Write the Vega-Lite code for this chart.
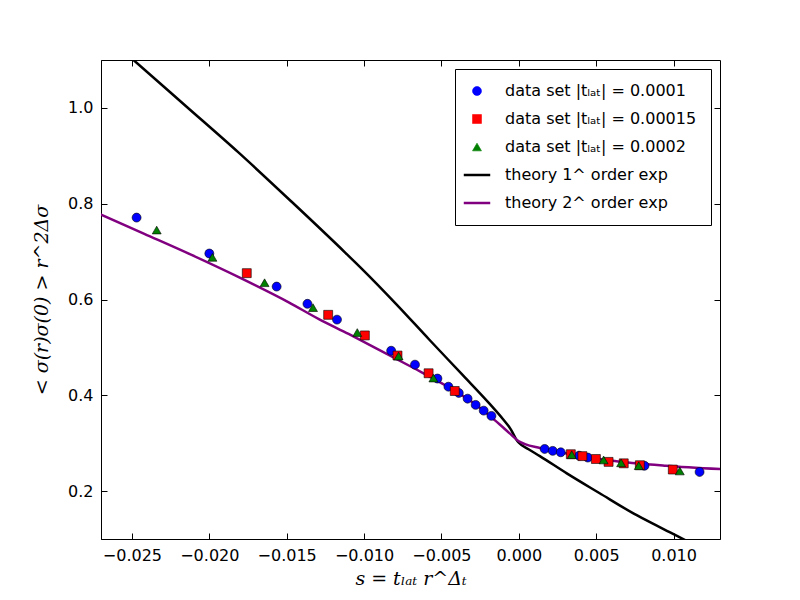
{
  "$schema": "https://vega.github.io/schema/vega-lite/v6.json",
  "width": 619,
  "height": 479,
  "autosize": {"type": "none"},
  "padding": {"left": 101, "top": 60, "right": 80, "bottom": 61},
  "background": "white",
  "config": {
    "view": {"stroke": "black", "strokeWidth": 1},
    "axis": {
      "domainColor": "black",
      "tickColor": "black",
      "tickSize": -6,
      "grid": false,
      "labelFont": "DejaVu Sans",
      "labelFontSize": 16,
      "labelColor": "black",
      "titleFont": "DejaVu Serif",
      "titleFontStyle": "italic",
      "titleFontWeight": "normal",
      "titleFontSize": 19,
      "titleColor": "black"
    },
    "legend": {
      "orient": "top-right",
      "offset": 9,
      "strokeColor": "black",
      "fillColor": "white",
      "padding": 14,
      "labelFont": "DejaVu Sans",
      "labelFontSize": 16,
      "labelColor": "black",
      "labelLimit": 400,
      "labelOffset": 20,
      "symbolSize": 700,
      "rowPadding": 12
    }
  },
  "datasets": {
    "theory": [
      {"series": "theory 1^ order exp", "s": -0.026, "g": 1.131},
      {"series": "theory 1^ order exp", "s": -0.0249, "g": 1.1},
      {"series": "theory 1^ order exp", "s": -0.02156, "g": 1.005},
      {"series": "theory 1^ order exp", "s": -0.01812, "g": 0.907},
      {"series": "theory 1^ order exp", "s": -0.01468, "g": 0.804},
      {"series": "theory 1^ order exp", "s": -0.01119, "g": 0.697},
      {"series": "theory 1^ order exp", "s": -0.01011, "g": 0.663},
      {"series": "theory 1^ order exp", "s": -0.00794, "g": 0.591},
      {"series": "theory 1^ order exp", "s": -0.00578, "g": 0.516},
      {"series": "theory 1^ order exp", "s": -0.00362, "g": 0.442},
      {"series": "theory 1^ order exp", "s": -0.00188, "g": 0.382},
      {"series": "theory 1^ order exp", "s": -0.00102, "g": 0.35},
      {"series": "theory 1^ order exp", "s": -0.0005, "g": 0.328},
      {"series": "theory 1^ order exp", "s": -0.00015, "g": 0.307},
      {"series": "theory 1^ order exp", "s": 0.0, "g": 0.301},
      {"series": "theory 1^ order exp", "s": 0.0006, "g": 0.288},
      {"series": "theory 1^ order exp", "s": 0.00136, "g": 0.273},
      {"series": "theory 1^ order exp", "s": 0.0031, "g": 0.237},
      {"series": "theory 1^ order exp", "s": 0.0052, "g": 0.196},
      {"series": "theory 1^ order exp", "s": 0.00743, "g": 0.153},
      {"series": "theory 1^ order exp", "s": 0.0091, "g": 0.125},
      {"series": "theory 1^ order exp", "s": 0.01079, "g": 0.097},
      {"series": "theory 1^ order exp", "s": 0.0112, "g": 0.09},
      {"series": "theory 2^ order exp", "s": -0.0272, "g": 0.78},
      {"series": "theory 2^ order exp", "s": -0.0242, "g": 0.737},
      {"series": "theory 2^ order exp", "s": -0.02115, "g": 0.693},
      {"series": "theory 2^ order exp", "s": -0.018, "g": 0.645},
      {"series": "theory 2^ order exp", "s": -0.01487, "g": 0.594},
      {"series": "theory 2^ order exp", "s": -0.01292, "g": 0.559},
      {"series": "theory 2^ order exp", "s": -0.011, "g": 0.528},
      {"series": "theory 2^ order exp", "s": -0.00903, "g": 0.495},
      {"series": "theory 2^ order exp", "s": -0.0068, "g": 0.457},
      {"series": "theory 2^ order exp", "s": -0.0047, "g": 0.42},
      {"series": "theory 2^ order exp", "s": -0.0032, "g": 0.39},
      {"series": "theory 2^ order exp", "s": -0.00188, "g": 0.357},
      {"series": "theory 2^ order exp", "s": -0.00123, "g": 0.339},
      {"series": "theory 2^ order exp", "s": -0.0005, "g": 0.318},
      {"series": "theory 2^ order exp", "s": 0.0, "g": 0.304},
      {"series": "theory 2^ order exp", "s": 0.0004, "g": 0.298},
      {"series": "theory 2^ order exp", "s": 0.00136, "g": 0.29},
      {"series": "theory 2^ order exp", "s": 0.003, "g": 0.279},
      {"series": "theory 2^ order exp", "s": 0.0059, "g": 0.264},
      {"series": "theory 2^ order exp", "s": 0.0095, "g": 0.253},
      {"series": "theory 2^ order exp", "s": 0.013, "g": 0.246}
    ],
    "points": [
      {"series": "data set |tₗₐₜ| = 0.0001", "s": -0.0247, "g": 0.771},
      {"series": "data set |tₗₐₜ| = 0.0001", "s": -0.02, "g": 0.696},
      {"series": "data set |tₗₐₜ| = 0.0001", "s": -0.01565, "g": 0.627},
      {"series": "data set |tₗₐₜ| = 0.0001", "s": -0.01366, "g": 0.591},
      {"series": "data set |tₗₐₜ| = 0.0001", "s": -0.01175, "g": 0.558},
      {"series": "data set |tₗₐₜ| = 0.0001", "s": -0.00825, "g": 0.493},
      {"series": "data set |tₗₐₜ| = 0.0001", "s": -0.00671, "g": 0.464},
      {"series": "data set |tₗₐₜ| = 0.0001", "s": -0.00526, "g": 0.435},
      {"series": "data set |tₗₐₜ| = 0.0001", "s": -0.00455, "g": 0.418},
      {"series": "data set |tₗₐₜ| = 0.0001", "s": -0.00388, "g": 0.405},
      {"series": "data set |tₗₐₜ| = 0.0001", "s": -0.00331, "g": 0.393},
      {"series": "data set |tₗₐₜ| = 0.0001", "s": -0.00279, "g": 0.38},
      {"series": "data set |tₗₐₜ| = 0.0001", "s": -0.00227, "g": 0.368},
      {"series": "data set |tₗₐₜ| = 0.0001", "s": -0.00177, "g": 0.357},
      {"series": "data set |tₗₐₜ| = 0.0001", "s": 0.00167, "g": 0.288},
      {"series": "data set |tₗₐₜ| = 0.0001", "s": 0.00219, "g": 0.284},
      {"series": "data set |tₗₐₜ| = 0.0001", "s": 0.00271, "g": 0.281},
      {"series": "data set |tₗₐₜ| = 0.0001", "s": 0.00389, "g": 0.274},
      {"series": "data set |tₗₐₜ| = 0.0001", "s": 0.00446, "g": 0.27},
      {"series": "data set |tₗₐₜ| = 0.0001", "s": 0.00812, "g": 0.253},
      {"series": "data set |tₗₐₜ| = 0.0001", "s": 0.01168, "g": 0.24},
      {"series": "data set |tₗₐₜ| = 0.00015", "s": -0.01758, "g": 0.655},
      {"series": "data set |tₗₐₜ| = 0.00015", "s": -0.01232, "g": 0.568},
      {"series": "data set |tₗₐₜ| = 0.00015", "s": -0.00995, "g": 0.525},
      {"series": "data set |tₗₐₜ| = 0.00015", "s": -0.00784, "g": 0.483},
      {"series": "data set |tₗₐₜ| = 0.00015", "s": -0.00583, "g": 0.446},
      {"series": "data set |tₗₐₜ| = 0.00015", "s": -0.00414, "g": 0.409},
      {"series": "data set |tₗₐₜ| = 0.00015", "s": 0.00336, "g": 0.277},
      {"series": "data set |tₗₐₜ| = 0.00015", "s": 0.00411, "g": 0.273},
      {"series": "data set |tₗₐₜ| = 0.00015", "s": 0.00498, "g": 0.267},
      {"series": "data set |tₗₐₜ| = 0.00015", "s": 0.0058, "g": 0.261},
      {"series": "data set |tₗₐₜ| = 0.00015", "s": 0.00678, "g": 0.258},
      {"series": "data set |tₗₐₜ| = 0.00015", "s": 0.00782, "g": 0.254},
      {"series": "data set |tₗₐₜ| = 0.00015", "s": 0.00995, "g": 0.245},
      {"series": "data set |tₗₐₜ| = 0.0002", "s": -0.0234, "g": 0.745},
      {"series": "data set |tₗₐₜ| = 0.0002", "s": -0.0198, "g": 0.688},
      {"series": "data set |tₗₐₜ| = 0.0002", "s": -0.01643, "g": 0.635},
      {"series": "data set |tₗₐₜ| = 0.0002", "s": -0.0133, "g": 0.583},
      {"series": "data set |tₗₐₜ| = 0.0002", "s": -0.01044, "g": 0.531},
      {"series": "data set |tₗₐₜ| = 0.0002", "s": -0.00777, "g": 0.482},
      {"series": "data set |tₗₐₜ| = 0.0002", "s": -0.00552, "g": 0.436},
      {"series": "data set |tₗₐₜ| = 0.0002", "s": 0.00342, "g": 0.276},
      {"series": "data set |tₗₐₜ| = 0.0002", "s": 0.00548, "g": 0.265},
      {"series": "data set |tₗₐₜ| = 0.0002", "s": 0.00661, "g": 0.259},
      {"series": "data set |tₗₐₜ| = 0.0002", "s": 0.00775, "g": 0.253},
      {"series": "data set |tₗₐₜ| = 0.0002", "s": 0.0104, "g": 0.242}
    ]
  },
  "resolve": {"axis": {"x": "independent", "y": "independent"}},
  "layer": [
    {
      "data": {"name": "theory"},
      "mark": {"type": "line", "strokeWidth": 2.5, "clip": true, "interpolate": "monotone"},
      "encoding": {
        "x": {
          "field": "s",
          "type": "quantitative",
          "scale": {"domain": [-0.027, 0.013], "nice": false, "zero": false},
          "axis": {
            "orient": "bottom",
            "values": [-0.025, -0.02, -0.015, -0.01, -0.005, 0, 0.005, 0.01],
            "format": ".3f",
            "labelPadding": 14,
            "title": "s = tₗₐₜ r^Δₜ",
            "titlePadding": 6
          }
        },
        "y": {
          "field": "g",
          "type": "quantitative",
          "scale": {"domain": [0.1, 1.1], "nice": false, "zero": false},
          "axis": {
            "orient": "left",
            "values": [0.2, 0.4, 0.6, 0.8, 1.0],
            "format": ".1f",
            "labelPadding": 14,
            "title": "< σ(r)σ(0) > r^2Δσ",
            "titlePadding": 16
          }
        },
        "color": {
          "field": "series",
          "type": "nominal",
          "scale": {
            "domain": ["data set |tₗₐₜ| = 0.0001", "data set |tₗₐₜ| = 0.00015", "data set |tₗₐₜ| = 0.0002", "theory 1^ order exp", "theory 2^ order exp"],
            "range": ["#0000ff", "#ff0000", "#008000", "#000000", "#800080"]
          },
          "legend": {
            "title": null,
            "encode": {
              "symbols": {
                "update": {
                  "fill": {"signal": "scale('color', datum.value)"},
                  "stroke": {"signal": "test(/theory/, datum.value) ? scale('color', datum.value) : 'black'"},
                  "strokeWidth": {"signal": "test(/theory/, datum.value) ? 2.5 : 0.6"},
                  "size": {"signal": "test(/theory/, datum.value) ? 700 : 80"},
                  "opacity": {"value": 1}
                }
              }
            }
          }
        },
        "detail": {"field": "series"}
      }
    },
    {
      "data": {"name": "points"},
      "mark": {"type": "point", "filled": true, "size": 80, "stroke": "black", "strokeWidth": 0.6, "opacity": 1},
      "encoding": {
        "x": {
          "field": "s",
          "type": "quantitative",
          "axis": {"orient": "top", "values": [-0.025, -0.02, -0.015, -0.01, -0.005, 0, 0.005, 0.01], "labels": false, "title": null, "domain": false}
        },
        "y": {
          "field": "g",
          "type": "quantitative",
          "axis": {"orient": "right", "values": [0.2, 0.4, 0.6, 0.8, 1.0], "labels": false, "title": null, "domain": false}
        },
        "color": {
          "field": "series",
          "type": "nominal",
          "legend": {
            "title": null,
            "encode": {
              "symbols": {
                "update": {
                  "fill": {"signal": "scale('color', datum.value)"},
                  "stroke": {"signal": "test(/theory/, datum.value) ? scale('color', datum.value) : 'black'"},
                  "strokeWidth": {"signal": "test(/theory/, datum.value) ? 2.5 : 0.6"},
                  "size": {"signal": "test(/theory/, datum.value) ? 700 : 80"},
                  "opacity": {"value": 1}
                }
              }
            }
          }
        },
        "shape": {
          "field": "series",
          "type": "nominal",
          "scale": {
            "domain": ["data set |tₗₐₜ| = 0.0001", "data set |tₗₐₜ| = 0.00015", "data set |tₗₐₜ| = 0.0002", "theory 1^ order exp", "theory 2^ order exp"],
            "range": ["circle", "square", "triangle-up", "stroke", "stroke"]
          },
          "legend": {
            "title": null,
            "encode": {
              "symbols": {
                "update": {
                  "fill": {"signal": "scale('color', datum.value)"},
                  "stroke": {"signal": "test(/theory/, datum.value) ? scale('color', datum.value) : 'black'"},
                  "strokeWidth": {"signal": "test(/theory/, datum.value) ? 2.5 : 0.6"},
                  "size": {"signal": "test(/theory/, datum.value) ? 700 : 80"},
                  "opacity": {"value": 1}
                }
              }
            }
          }
        }
      }
    }
  ]
}
